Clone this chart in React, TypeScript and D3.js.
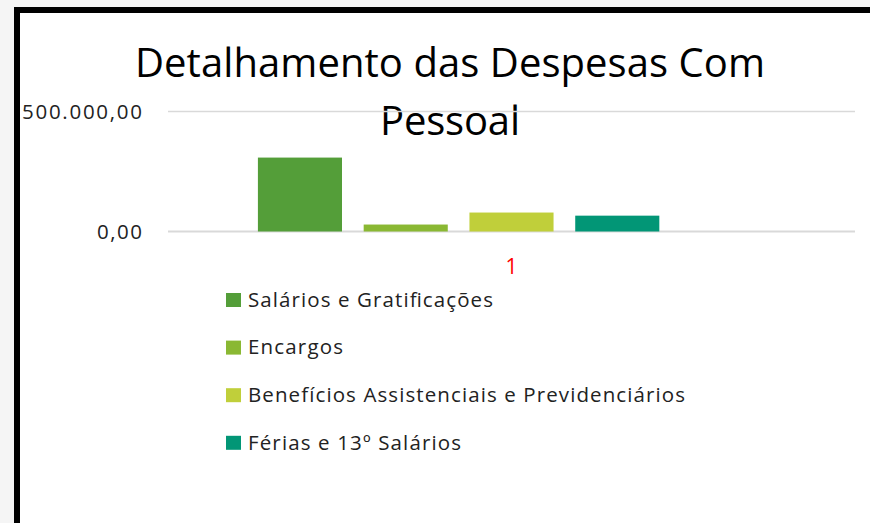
import React from "react";
import * as d3 from "d3";

const width = 870;
const height = 523;

// one category, four series (fifth slot is empty in the original sheet)
const categories = ["1"];
const seriesNames = [
  "Salários e Gratificações",
  "Encargos",
  "Benefícios Assistenciais e Previdenciários",
  "Férias e 13º Salários",
];
const seriesValues = [308000, 29000, 79000, 66000];
const seriesColors = ["#549E39", "#8AB833", "#C0CF3A", "#029676"];
const yTicks = [0, 500000];
const titleLines = ["Detalhamento das Despesas Com", "Pessoal"];

const ptBR = d3.formatLocale({
  decimal: ",",
  thousands: ".",
  grouping: [3],
  currency: ["R$", ""],
});
const fmt = ptBR.format(",.2f");

const font = "'Open Sans', 'Noto Sans', sans-serif";

const legendWidths = [245, 95, 437, 213];

export default function App() {
  const x0 = d3.scaleBand().domain(categories).range([168, 855]);
  const slots = [...seriesNames, ""];
  const x1 = d3
    .scaleBand()
    .domain(slots)
    .range([0, x0.bandwidth()])
    .paddingInner(0.205)
    .paddingOuter(0.85);
  const y = d3.scaleLinear().domain([0, 500000]).range([231.5, 111.5]);

  return (
    <svg
      width={width}
      height={height}
      style={{ position: "absolute", left: 0, top: 0, display: "block" }}
    >
      <rect width={width} height={height} fill="#f5f5f5" />
      <rect x={17} y={10} width={width + 20} height={height + 20} fill="#fff" stroke="#000" strokeWidth={6} />

      {titleLines.map((t, i) => (
        <text
          key={i}
          x={450}
          y={77 + i * 58}
          textAnchor="middle"
          fontFamily={font}
          fontSize={40}
          textLength={i === 0 ? 630 : 140}
          fill="#000"
        >
          {t}
        </text>
      ))}

      {yTicks.map((t) => (
        <g key={t}>
          <line
            x1={168}
            x2={855}
            y1={y(t)}
            y2={y(t)}
            stroke="#d9d9d9"
            strokeWidth={t === 0 ? 2 : 1.3}
          />
          <text
            x={142}
            y={y(t)}
            dy="0.36em"
            textAnchor="end"
            fontFamily={font}
            fontSize={20.5}
            textLength={t === 0 ? 45 : 120}
            fill="#222"
          >
            {fmt(t)}
          </text>
        </g>
      ))}

      {categories.map((c) => (
        <g key={c} transform={`translate(${x0(c)},0)`}>
          {seriesNames.map((s, i) => (
            <rect
              key={s}
              x={x1(s)}
              y={y(seriesValues[i])}
              width={x1.bandwidth()}
              height={y(0) - y(seriesValues[i])}
              fill={seriesColors[i]}
            />
          ))}
          <text
            x={x0.bandwidth() / 2}
            y={274}
            textAnchor="middle"
            fontFamily={font}
            fontSize={21}
            fill="#ff0000"
          >
            {c}
          </text>
        </g>
      ))}

      {seriesNames.map((s, i) => (
        <g key={s} transform={`translate(226,${293 + i * 47.6})`}>
          <rect width={15} height={14} fill={seriesColors[i]} />
          <text
            x={22}
            y={13.7}
            fontFamily={font}
            fontSize={20.5}
            textLength={legendWidths[i]}
            fill="#222"
          >
            {s}
          </text>
        </g>
      ))}
    </svg>
  );
}
